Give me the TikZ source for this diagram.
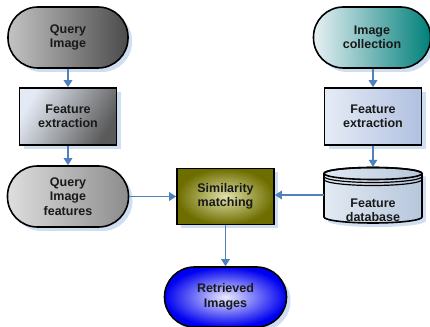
\documentclass[tikz,border=0pt]{standalone}
\usepackage{fontspec}
\setmainfont{Liberation Sans}
\usetikzlibrary{arrows.meta,shadows,calc}
\definecolor{arrc}{RGB}{79,129,189}
\definecolor{shadc}{RGB}{208,222,242}
\definecolor{txtc}{RGB}{25,25,25}
\definecolor{qiL}{RGB}{195,195,195}
\definecolor{qiR}{RGB}{75,75,75}
\definecolor{feL}{RGB}{228,234,244}
\definecolor{feR}{RGB}{90,90,90}
\definecolor{qfL}{RGB}{222,222,222}
\definecolor{qfR}{RGB}{140,140,140}
\definecolor{icL}{RGB}{232,240,244}
\definecolor{icR}{RGB}{0,128,122}
\definecolor{f2L}{RGB}{230,236,246}
\definecolor{f2R}{RGB}{176,192,224}
\definecolor{smO}{RGB}{110,110,0}
\definecolor{smI}{RGB}{225,225,170}
\definecolor{riO}{RGB}{0,0,240}
\definecolor{riI}{RGB}{235,235,255}
\definecolor{dbL}{RGB}{226,234,242}
\definecolor{dbR}{RGB}{182,198,220}
\tikzset{
  lbl/.style={align=center, text=txtc, font=\fontsize{12.5}{14.5}\selectfont\bfseries},
  shad/.style={drop shadow={shadow xshift=4pt, shadow yshift=-4pt, fill=shadc, draw=none, opacity=1}},
  term/.style={lbl, shad, rectangle, rounded corners=30pt, draw=black, line width=1.6pt, minimum width=120pt, minimum height=61pt},
  proc/.style={lbl, shad, rectangle, draw=black, line width=1.6pt, minimum width=97pt, minimum height=57pt},
  arr/.style={draw=arrc, line width=1.5pt, -{Triangle[length=7pt,width=8.5pt]}}
}
\begin{document}
\begin{tikzpicture}[x=1pt,y=1pt]
\useasboundingbox (0,0) rectangle (430,326);
\node[term, left color=qiL, right color=qiR] (qi) at (68,288.5) {Query\\Image};
\node[proc, left color=feL, right color=feR, shading angle=60] (fe1) at (68,209.5) {Feature\\extraction};
\node[term, left color=qfL, right color=qfR, minimum width=121pt] (qif) at (68,129.5) {Query\\Image\\features};
\node[proc, inner color=smI, outer color=smO, minimum height=56pt] (sm) at (225.5,129.5) {Similarity\\matching};
\node[term, inner color=riI, outer color=riO, minimum width=122pt, minimum height=60pt] (ri) at (225.5,29) {Retrieved\\Images};
\node[term, left color=icL, right color=icR, minimum width=117pt] (ic) at (372,288.5) {Image\\collection};
\node[proc, left color=f2L, right color=f2R] (fe2) at (373,209.5) {Feature\\extraction};
% database cylinder
\node[rectangle, minimum width=98pt, minimum height=56pt, inner sep=0pt] (db) at (373,131) {};
\fill[shadc] ($(db.west)+(4,-4)$) ++(0,21.5) -- ++(0,-43.5) arc[start angle=180,end angle=360,x radius=49,y radius=6] -- ++(0,43.5) arc[start angle=0,end angle=180,x radius=49,y radius=6] -- cycle;
\shade[left color=dbL, right color=dbR, draw=black, line width=1.6pt] (324,152.5) -- (324,109) arc[start angle=180,end angle=360,x radius=49,y radius=6] -- (422,152.5) arc[start angle=0,end angle=180,x radius=49,y radius=6] -- cycle;
\draw[line width=1.6pt] (373,152.5) ellipse[x radius=49,y radius=6];
\draw[line width=1.2pt] (324,149.5) arc[start angle=180,end angle=360,x radius=49,y radius=6];
\draw[line width=1.2pt] (324,146.5) arc[start angle=180,end angle=360,x radius=49,y radius=6];
\node[lbl] (dbt) at (373,115.5) {Feature\\database};
% connectors
\draw[arr] (qi.south) -- (qi.south |- fe1.north);
\draw[arr] (fe1.south) -- (fe1.south |- qif.north);
\draw[arr] (ic.south -| fe2.north) -- (fe2.north);
\draw[arr] (fe2.south) -- (db.north);
\draw[arr] (qif.east) -- (qif.east -| sm.west);
\draw[arr] (db.west) -- (db.west -| sm.east);
\draw[arr] (sm.south) -- (sm.south |- ri.north);
\end{tikzpicture}
\end{document}
